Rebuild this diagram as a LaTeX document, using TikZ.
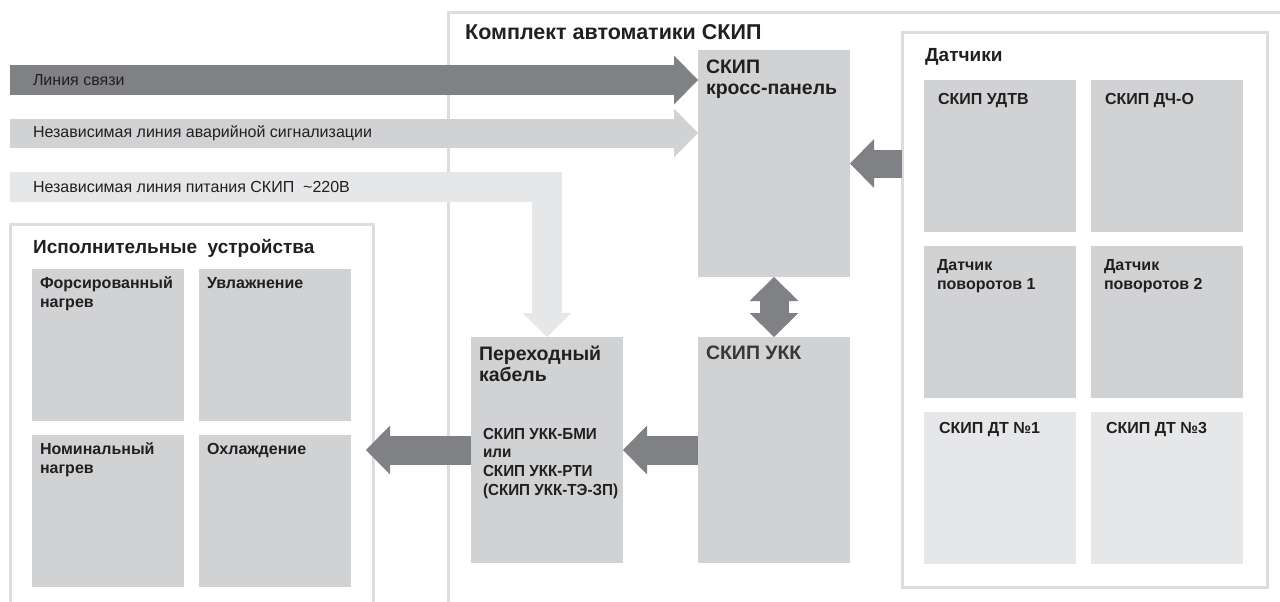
\documentclass[tikz,border=0pt]{standalone}
\usepackage{fontspec}
\setmainfont{Liberation Sans}
\newfontfamily\narrowfont[FakeStretch=0.95]{Liberation Sans}
\usepackage{tikz}
\usetikzlibrary{arrows.meta,calc,positioning}
\definecolor{cDark}{HTML}{808184}
\definecolor{cMid}{HTML}{D1D2D4}
\definecolor{cLight}{HTML}{E6E7E8}
\definecolor{cFrame}{HTML}{DCDDDF}
\definecolor{cText}{HTML}{231F20}
\tikzset{
  bigtip/.tip={Triangle[length=24pt,width=49pt,line width=0pt]},
  band/.style   ={line width=29pt},
  dband/.style  ={band,cDark,-bigtip},
  mband/.style  ={band,cMid,-bigtip},
  lband/.style  ={line width=30pt,cLight,-bigtip},
  btxt/.style   ={pos=0,anchor=west,xshift=23pt,inner sep=0,outer sep=0,text=cText,
                  font=\fontsize{16}{18}\selectfont},
  frame/.style  ={cFrame,line width=3pt},
  box/.style    ={fill=cMid,minimum width=152pt,minimum height=152pt,inner sep=0,
                  outer sep=0,anchor=north west},
  ttl/.style    ={inner sep=0,anchor=base west,text=cText,
                  font=\fontsize{19}{22}\selectfont\bfseries},
  lbl/.style    ={inner sep=0,outer sep=0,anchor=north west,align=left,text=cText,
                  font=\fontsize{16}{19}\selectfont\bfseries},
  biglbl/.style ={lbl,font=\fontsize{19.5}{21}\selectfont\bfseries},
  cond/.style   ={inner sep=0,outer sep=0,anchor=north west,align=left,text=cText,
                  font=\narrowfont\fontsize{16}{18.7}\selectfont\bfseries},
}
\begin{document}
\begin{tikzpicture}[x=1pt,y=-1pt]
  \useasboundingbox (0,0) rectangle (1280,602);
  \draw[frame] (448,602) |- (1280,13);
  \draw[frame] (10,602) |- (373,224) -- (373,602);
  \node[ttl] (kompl) at (465,40) {\fontsize{21.5}{24}\selectfont Комплект автоматики СКИП};
  \node[ttl] (isp) at (33,253) {Исполнительные\ \ устройства};

  \node[draw=cFrame,line width=3pt,minimum width=365pt,minimum height=554pt,
        inner sep=0,outer sep=0,anchor=north west] (sens) at (902,33) {};
  \node[ttl] (senst) at (925,62) {Датчики};

  \node[box,label={[lbl,xshift=8pt,yshift=-8pt]north west:{Форсированный\\нагрев}}] (fors) at (32,269) {};
  \node[box,right=15pt of fors,label={[lbl,xshift=8pt,yshift=-8pt]north west:Увлажнение}] (uvl) {};
  \node[box,below=14pt of fors,label={[lbl,xshift=8pt,yshift=-8pt]north west:{Номинальный\\нагрев}}] (nom) {};
  \node[box,right=15pt of nom,label={[lbl,xshift=8pt,yshift=-8pt]north west:Охлаждение}] (ohl) {};

  \node[box,label={[lbl,xshift=14pt,yshift=-13pt]north west:СКИП УДТВ}] (udtv) at (924,80) {};
  \node[box,right=15pt of udtv,label={[lbl,xshift=14pt,yshift=-13pt]north west:СКИП ДЧ-О}] (dcho) {};
  \node[box,below=14pt of udtv,label={[lbl,xshift=13pt,yshift=-13pt]north west:{Датчик\\поворотов 1}}] (dp1) {};
  \node[box,right=15pt of dp1,label={[lbl,xshift=13pt,yshift=-13pt]north west:{Датчик\\поворотов 2}}] (dp2) {};
  \node[box,fill=cLight,below=14pt of dp1,label={[lbl,xshift=15pt,yshift=-10pt]north west:СКИП ДТ №1}] (dt1) {};
  \node[box,fill=cLight,right=15pt of dt1,label={[lbl,xshift=15pt,yshift=-10pt]north west:СКИП ДТ №3}] (dt3) {};

  \node[box,minimum height=227pt,label={[biglbl,xshift=8pt,yshift=-10pt]north west:{СКИП\\кросс-панель}}] (cross) at (698,50) {};
  \node[box,minimum height=226pt,below=60pt of cross,
        label={[biglbl,text=black!78,xshift=8pt,yshift=-9pt]north west:СКИП УКК}] (ukk) {};
  \node[box,minimum height=226pt,left=75pt of ukk,
        label={[biglbl,xshift=8pt,yshift=-9pt]north west:{Переходный\\кабель}},
        label={[cond,xshift=12pt,yshift=-91pt]north west:{СКИП УКК-БМИ\\или\\СКИП УКК-РТИ\\(СКИП УКК-ТЭ-ЗП)}}] (cable) {};

  \coordinate (lsv) at (10,80);
  \coordinate (nla) at (10,133);
  \coordinate (nlp) at (10,187);
  \draw[dband] (lsv) -- (lsv -| cross.west) node[btxt] {Линия связи};
  \draw[mband] (nla) -- (nla -| cross.west) node[btxt] {Независимая линия аварийной сигнализации};
  \draw[lband] (nlp) -| (cable.north) node[btxt] {Независимая линия питания СКИП\ \ \textasciitilde220В};
  \draw[dband,line width=28pt] (sens.west |- cross.east) -- (cross.east);
  \draw[dband,bigtip-bigtip] (cross.south) -- (ukk.north);
  \draw[dband] (ukk.west) -- (cable.east);
  \draw[dband] (cable.west) -- ($(ohl.east |- cable.west)+(15,0)$);
\end{tikzpicture}
\end{document}
